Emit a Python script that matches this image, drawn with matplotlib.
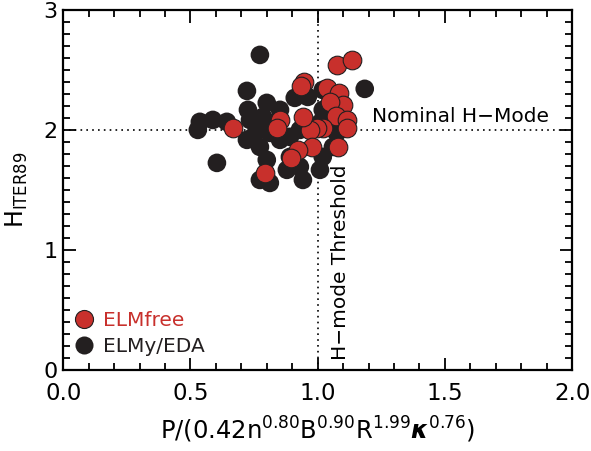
import numpy as np
import matplotlib
matplotlib.use("Agg")
import matplotlib.pyplot as plt
from matplotlib.lines import Line2D
from matplotlib.ticker import MultipleLocator

# ELMy / EDA discharges
elmy_p = [0.773, 1.185, 0.722, 0.800, 0.726, 0.537, 0.588, 0.643, 0.529, 0.604,
          0.910, 0.961, 1.020, 0.852, 0.734, 0.785, 0.722, 0.773, 0.812, 0.800,
          0.773, 0.812, 0.891, 0.930, 0.879, 0.942, 1.009, 1.020, 1.060, 1.075,
          0.824, 0.761, 0.746, 0.852, 0.891, 0.930, 1.009, 1.020, 1.075]
elmy_h = [2.625, 2.342, 2.325, 2.225, 2.167, 2.067, 2.083, 2.067, 2.000, 1.725,
          2.267, 2.275, 2.333, 2.167, 2.083, 2.108, 1.917, 1.858, 1.975, 1.750,
          1.583, 1.558, 1.775, 1.692, 1.667, 1.583, 1.667, 1.775, 1.858, 1.975,
          2.058, 2.025, 1.942, 1.917, 1.942, 2.000, 2.058, 2.167, 2.142]

# ELM-free discharges
free_p = [1.075, 1.134, 0.946, 0.934, 1.036, 1.083, 1.099, 1.048, 1.071, 1.114,
          1.114, 1.020, 0.997, 0.969, 0.942, 0.852, 0.840, 0.667, 1.079, 0.977,
          0.922, 0.895, 0.793]
free_h = [2.542, 2.583, 2.400, 2.367, 2.350, 2.308, 2.208, 2.233, 2.117, 2.083,
          2.017, 2.017, 2.017, 2.000, 2.108, 2.083, 2.017, 2.017, 1.858, 1.858,
          1.833, 1.767, 1.642]

RED = "#c8302c"
BLACK = "#231f20"

plt.rcParams["font.family"] = "DejaVu Sans"
plt.rcParams["mathtext.default"] = "regular"

fig = plt.figure(figsize=(5.91, 4.51), dpi=100)
ax = fig.add_axes([0.107, 0.18, 0.861, 0.798])

ax.axhline(2.0, color="black", lw=1.2, ls=(0, (1, 2.5)), zorder=1)
ax.axvline(1.0, color="black", lw=1.2, ls=(0, (1, 2.5)), zorder=1)

ax.scatter(elmy_p, elmy_h, s=180, color=BLACK, edgecolors="none", zorder=2)
ax.scatter(free_p, free_h, s=180, color=RED, edgecolors=BLACK, linewidths=0.8, zorder=3)

ax.text(1.213, 2.11, "Nominal H\u2212Mode", fontsize=14.5, va="center", ha="left")
ax.text(1.09, 0.08, "H\u2212mode Threshold", fontsize=14.5, rotation=90,
        va="bottom", ha="center")

ax.set_xlim(0, 2)
ax.set_ylim(0, 3)
ax.xaxis.set_major_locator(MultipleLocator(0.5))
ax.xaxis.set_minor_locator(MultipleLocator(0.1))
ax.yaxis.set_major_locator(MultipleLocator(1))
ax.yaxis.set_minor_locator(MultipleLocator(0.1))
ax.set_xticks([0, 0.5, 1.0, 1.5, 2.0])
ax.set_xticklabels(["0.0", "0.5", "1.0", "1.5", "2.0"])
ax.tick_params(which="both", direction="in", top=True, right=True, width=1.3)
ax.tick_params(which="major", length=9)
ax.tick_params(which="minor", length=5)
ax.tick_params(axis="x", labelsize=16.5, pad=9)
ax.tick_params(axis="y", labelsize=16, pad=4)
for sp in ax.spines.values():
    sp.set_linewidth(1.6)

ax.set_xlabel(r"P/(0.42n$^{0.80}$B$^{0.90}$R$^{1.99}$$\boldsymbol{\kappa}$$^{0.76}$)",
              fontsize=17.5, labelpad=7)
ax.set_ylabel(r"H$_{ITER89}$", fontsize=17, labelpad=10)

handles = [
    Line2D([], [], ls="none", marker="o", ms=13, mfc=RED, mec=BLACK, mew=0.8),
    Line2D([], [], ls="none", marker="o", ms=13, mfc=BLACK, mec="none"),
]
ax.legend(handles, ["ELMfree", "ELMy/EDA"], loc="lower left",
          bbox_to_anchor=(-0.01, 0.0), frameon=False, fontsize=14.5,
          handlelength=1.2, handletextpad=0.35, labelspacing=0.35, borderaxespad=0.3,
          labelcolor=[RED, BLACK])

fig.savefig("out.png", dpi=100)
